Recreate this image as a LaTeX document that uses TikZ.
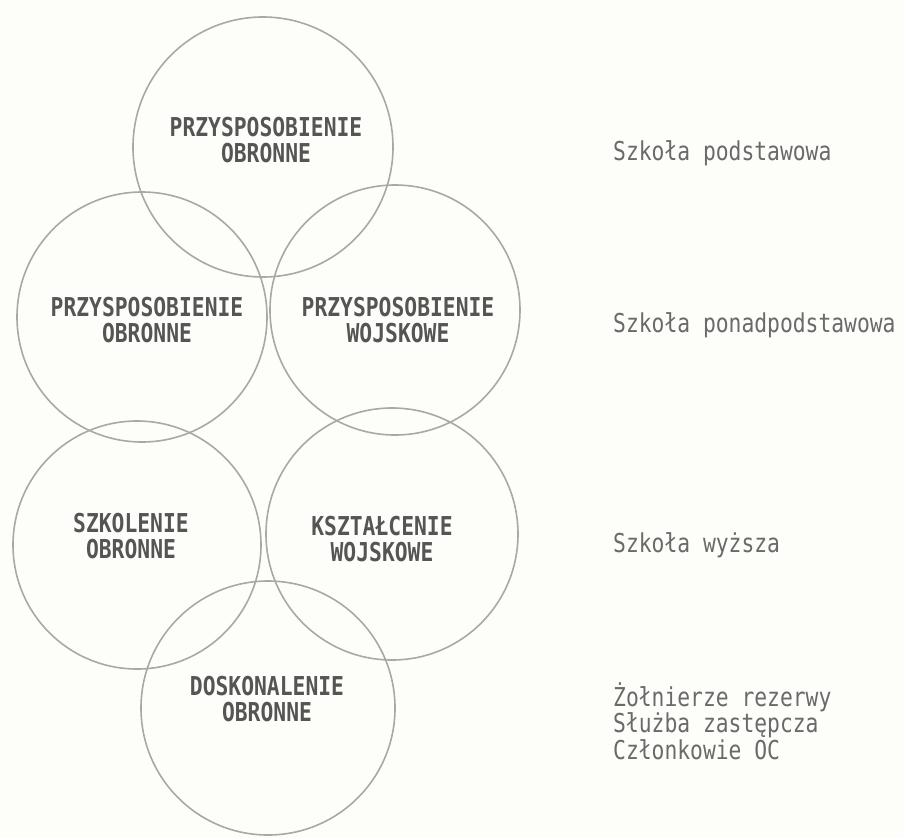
\documentclass[tikz,border=0pt]{standalone}
\usepackage{fontspec}
\usepackage{xcolor}
\newfontfamily\typefont[FakeStretch=0.82]{DejaVu Sans Mono}
\definecolor{paper}{HTML}{FDFDF9}
\definecolor{ringgray}{HTML}{A8A8A4}
\definecolor{inkgray}{HTML}{555555}
\definecolor{typegray}{HTML}{6A6A6A}

\begin{document}
\begin{tikzpicture}[x=1pt, y=-1pt, inner sep=0pt]
		\tikzstyle{ring}=[circle, draw=ringgray, line width=1.6pt]
		\tikzstyle{area}=[align=center, text=inkgray, font=\typefont\bfseries\fontsize{26}{26}\selectfont]
		\tikzstyle{level}=[anchor=west, align=left, text=typegray, font=\typefont\fontsize{26}{24}\selectfont]
			\fill[paper] (0,0) rectangle (904,838);
			\useasboundingbox (0,0) rectangle (904,838);
	
			% circles
			\node[ring, minimum size=260pt] (top) at (263,147) {};
			\node[ring, minimum size=250pt] (midleft) at (142,317) {};
			\node[ring, minimum size=250pt] (midright) at (395,310) {};
			\node[ring, minimum size=248pt] (lowleft) at (137,545) {};
			\node[ring, minimum size=252pt] (lowright) at (392,534) {};
			\node[ring, minimum size=254pt] (bottom) at (268,708) {};
	
			% circle texts
			\node[area] (topText) at (266,140) {PRZYSPOSOBIENIE\\OBRONNE};
			\node[area] (midleftText) at (147,320) {PRZYSPOSOBIENIE\\OBRONNE};
			\node[area] (midrightText) at (398,320) {PRZYSPOSOBIENIE\\WOJSKOWE};
			\node[area] (lowleftText) at (131,536) {SZKOLENIE\\OBRONNE};
			\node[area] (lowrightText) at (382,539) {KSZTAŁCENIE\\WOJSKOWE};
			\node[area] (bottomText) at (267,699) {DOSKONALENIE\\OBRONNE};
	
			% school levels
			\node[level] (primary) at (613,153) {Szkoła podstawowa};
			\node[level] (secondary) at (613,325) {Szkoła ponadpodstawowa};
			\node[level] (higher) at (613,545) {Szkoła wyższa};
			\node[level] (reserve) at (613,721) {Żołnierze rezerwy\\Służba zastępcza\\Członkowie OC};
		\end{tikzpicture}
\end{document}
